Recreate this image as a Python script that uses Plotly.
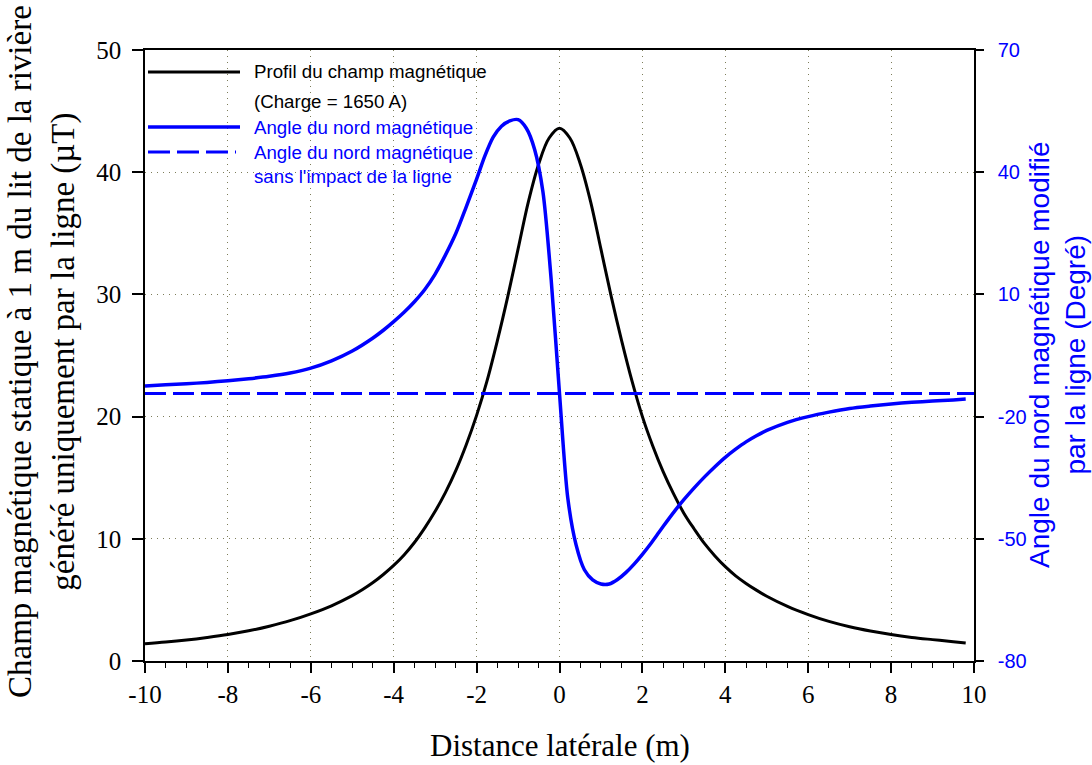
import plotly.graph_objects as go

# ---------------- data ----------------
x_field = [-10, -9.5, -9, -8.5, -8, -7.5, -7, -6.5, -6, -5.5, -5, -4.75, -4.5, -4.25, -4, -3.75, -3.5, -3.25, -3, -2.75,
           -2.5, -2.25, -2, -1.75, -1.5, -1.25, -1, -0.75, -0.5, -0.25, 0,
           0.25, 0.5, 0.75, 1, 1.25, 1.5, 1.75, 2, 2.25, 2.5, 2.75, 3, 3.25, 3.5, 3.75, 4, 4.25, 4.5, 4.75, 5, 5.5,
           6, 6.5, 7, 7.5, 8, 8.5, 9, 9.5, 9.8]
field_uT = [1.41, 1.55, 1.72, 1.93, 2.17, 2.47, 2.85, 3.3, 3.86, 4.52, 5.35, 5.85, 6.42, 7.08, 7.82, 8.68, 9.7, 10.9, 12.25, 13.8,
            15.6, 17.7, 20.1, 22.9, 26.2, 29.8, 33.7, 37.6, 40.7, 42.8, 43.6,
            42.8, 40.7, 37.6, 33.7, 29.8, 26.2, 22.9, 20.0, 17.6, 15.5, 13.7, 12.1, 10.8, 9.6, 8.6, 7.72, 6.97, 6.35, 5.8, 5.3, 4.47,
            3.8, 3.24, 2.8, 2.45, 2.16, 1.93, 1.75, 1.58, 1.48]

x_angle = [-10, -9.5, -9, -8.5, -8, -7.5, -7, -6.5, -6, -5.5, -5, -4.5, -4.25, -4, -3.75, -3.5, -3.25, -3, -2.75,
           -2.5, -2.25, -2, -1.8, -1.6, -1.4, -1.2, -1.0, -0.8, -0.6, -0.4, -0.2, 0,
           0.2, 0.4, 0.6, 0.8, 1.0, 1.2, 1.4, 1.6, 1.8, 2.0, 2.2, 2.4, 2.6, 2.8, 3.0,
           3.25, 3.5, 3.75, 4.0, 4.25, 4.5, 4.75, 5.0, 5.5, 6.0, 6.5, 7.0, 7.5, 8.0, 8.5, 9.0, 9.5, 9.8]
angle_deg = [-12.5, -12.2, -11.95, -11.6, -11.2, -10.7, -10.1, -9.3, -8.1, -6.3, -3.9, -0.7, 1.2, 3.3, 5.6, 8.2, 11.2, 15.0, 19.7,
             25.0, 31.5, 38.3, 44.0, 48.6, 51.3, 52.6, 52.9, 50.8, 45.6, 35.2, 13.5, -14.3,
             -40.0, -51.5, -57.6, -60.1, -61.1, -61.1, -60.0, -58.3, -56.2, -53.8, -51.2, -48.4, -45.6, -42.9, -40.4,
             -37.5, -34.8, -32.3, -30.0, -28.0, -26.2, -24.7, -23.4, -21.4, -20.0, -18.9, -18.0, -17.4, -16.9,
             -16.5, -16.2, -15.9, -15.7]

x_ref = [-10, 10]
angle_ref = [-14.3, -14.3]

x_ticks = [-10, -8, -6, -4, -2, 0, 2, 4, 6, 8, 10]
x_ticktext = ["-10", "-8", "-6", "-4", "-2", "0", "2", "4", "6", "8", "10"]
y_ticks = [0, 10, 20, 30, 40, 50]
y2_ticks = [-80, -50, -20, 10, 40, 70]
y2_ticktext = ["-80", "-50", "-20", "10", "40", "70"]

legend_labels = ["Profil du champ magnétique", "(Charge = 1650 A)",
                 "Angle du nord magnétique", "Angle du nord magnétique",
                 "sans l'impact de la ligne"]

# ---------------- layout geometry ----------------
OFF = 0                      # body margin removed by post_script
W, H = 1092, 765
L, R, T, B = 145, 118, 50, 104
PW, PH = W - L - R, H - T - B
SERIF = "Liberation Serif, Times New Roman, serif"
SANS = "Liberation Sans, Arial, sans-serif"
BLUE = "#0000FF"
GRID = "#7d7d5a"


def px(xp):
    return (xp - OFF - L) / PW


def py(yp):
    return (OFF + H - B - yp) / PH


fig = go.Figure()
fig.add_trace(go.Scatter(x=x_field, y=field_uT, mode="lines",
                         line=dict(color="black", width=3, shape="spline", smoothing=1.0),
                         name=legend_labels[0], showlegend=False))
fig.add_trace(go.Scatter(x=x_angle, y=angle_deg, mode="lines", yaxis="y2",
                         line=dict(color=BLUE, width=3.5, shape="spline", smoothing=0.8),
                         name=legend_labels[2], showlegend=False))
fig.add_trace(go.Scatter(x=x_ref, y=angle_ref, mode="lines", yaxis="y2",
                         line=dict(color=BLUE, width=3, dash="21px,7px"),
                         name=legend_labels[3], showlegend=False))

fig.update_layout(
    width=W, height=H, margin=dict(l=L, r=R, t=T, b=B),
    paper_bgcolor="white", plot_bgcolor="white",
    xaxis=dict(range=[-10, 10], tickvals=x_ticks, ticktext=x_ticktext, ticks="outside", ticklen=10,
               tickwidth=1.5, tickcolor="black",
               showline=True, linewidth=1.5, linecolor="black", mirror=True, zeroline=False,
               showgrid=True, gridcolor=GRID, griddash="1px,5px", gridwidth=1,
               tickfont=dict(family=SERIF, size=25, color="black"),
               minor=dict(dtick=0.5, tick0=0, ticks="outside", ticklen=5, tickwidth=1.2,
                          tickcolor="black", showgrid=False)),
    yaxis=dict(range=[0, 50], tickvals=y_ticks, ticks="outside", ticklen=11, tickwidth=1.5, tickcolor="black",
               showline=True, linewidth=1.5, linecolor="black", zeroline=False, ticklabelstandoff=6,
               showgrid=True, gridcolor=GRID, griddash="1px,5px", gridwidth=1,
               tickfont=dict(family=SERIF, size=25, color="black")),
    yaxis2=dict(range=[-80, 70], tickvals=y2_ticks, ticktext=y2_ticktext, overlaying="y", side="right",
                ticks="outside", ticklen=8,
                tickwidth=1.5, tickcolor="black", showline=True, linewidth=1.5, linecolor="black",
                zeroline=False, showgrid=False, ticklabelstandoff=10,
                tickfont=dict(family=SANS, size=20, color=BLUE)),
)

ann = []
ann.append(dict(text="Champ magnétique statique à 1 m du lit de la rivière<br>généré uniquement par la ligne (µT)",
                x=px(42), y=py(352), xref="paper", yref="paper", xanchor="center", yanchor="middle",
                textangle=-90, showarrow=False, font=dict(family=SERIF, size=33, color="black")))
ann.append(dict(text="Angle du nord magnétique modifié<br>par la ligne (Degré)",
                x=px(1057), y=py(355), xref="paper", yref="paper", xanchor="center", yanchor="middle",
                textangle=-90, showarrow=False, font=dict(family=SANS, size=28, color=BLUE)))
ann.append(dict(text="Distance latérale (m)", x=0.5, y=py(745), xref="paper", yref="paper",
                xanchor="center", yanchor="middle", showarrow=False,
                font=dict(family=SERIF, size=31, color="black")))

# manual legend
leg_rows = [(72, legend_labels[0], "black"), (101, legend_labels[1], "black"), (127, legend_labels[2], BLUE),
            (152, legend_labels[3], BLUE), (176, legend_labels[4], BLUE)]
for yp, txt, col in leg_rows:
    ann.append(dict(text=txt, x=px(252), y=py(yp), xref="paper", yref="paper", xanchor="left", yanchor="middle",
                    showarrow=False, font=dict(family=SANS, size=18.7, color=col)))
fig.update_layout(annotations=ann)

shapes = [
    dict(type="line", xref="paper", yref="paper", x0=px(148), x1=px(240), y0=py(72), y1=py(72),
         line=dict(color="black", width=3)),
    dict(type="line", xref="paper", yref="paper", x0=px(148), x1=px(240), y0=py(127), y1=py(127),
         line=dict(color=BLUE, width=3.5)),
    dict(type="line", xref="paper", yref="paper", x0=px(148), x1=px(236), y0=py(152), y1=py(152),
         line=dict(color=BLUE, width=3, dash="22px,7px")),
]
fig.update_layout(shapes=shapes)

fig.write_html("out.html", config={"displayModeBar": False},
               post_script="document.body.style.margin='0px';document.body.style.overflow='hidden';")
